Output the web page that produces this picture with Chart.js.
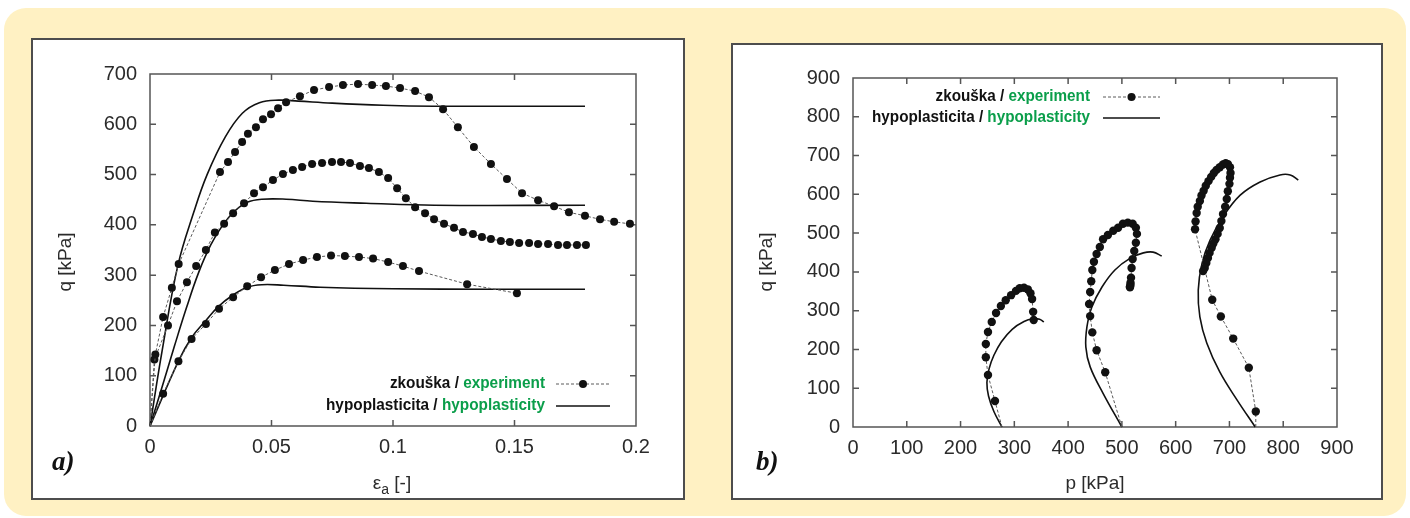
<!DOCTYPE html>
<html>
<head>
<meta charset="utf-8">
<title>Triaxiální zkoušky</title>
<script src="https://cdn.jsdelivr.net/npm/chart.js@4.4.1/dist/chart.umd.min.js"></script>
<style>
  body { margin: 0; width: 1410px; height: 518px; background: #fff; position: relative; overflow: hidden; }
  #frame { position: absolute; left: 4px; top: 8px; width: 1402px; height: 508px; background: #fff1c3; border-radius: 22px; }
  .panel { position: absolute; background: #fff; border: 2px solid #4d4d4d; box-sizing: border-box; }
  #panelA { left: 31px; top: 38px; width: 654px; height: 462px; }
  #panelB { left: 731px; top: 43px; width: 652px; height: 457px; }
  canvas { position: absolute; }
  #chartA { left: 31px; top: 38px; }
  #chartB { left: 731px; top: 43px; }
</style>
</head>
<body>
<div id="frame"></div>
<div class="panel" id="panelA"></div>
<div class="panel" id="panelB"></div>
<canvas id="chartA" width="654" height="462"></canvas>
<canvas id="chartB" width="652" height="457"></canvas>
<script>
// --- a) q vs axial strain ---
const strainTicks = ["0", "0.05", "0.1", "0.15", "0.2"];
const qTicksA = ["0", "100", "200", "300", "400", "500", "600", "700"];

// experiment (zkouška), three tests
const exp1Strain = [0, 0.0022, 0.0054, 0.009, 0.0118, 0.0288, 0.0321, 0.035, 0.0379, 0.0403, 0.0436, 0.0465, 0.0498, 0.0527, 0.056, 0.0617, 0.0675, 0.0737, 0.0794, 0.0856, 0.0914, 0.0971, 0.1029, 0.1091, 0.1148, 0.1206, 0.1267, 0.1333, 0.1403, 0.1469, 0.1531, 0.1597, 0.1663, 0.1724, 0.179, 0.1852, 0.191, 0.1975];
const exp1Q = [0, 142, 217, 275, 322, 505, 525, 545, 565, 581, 594, 610, 620, 632, 644, 656, 668, 674, 678, 680, 678, 676, 672, 666, 654, 630, 594, 555, 521, 491, 463, 449, 437, 425, 418, 411, 406, 402];

const exp2Strain = [0, 0.0018, 0.0074, 0.0111, 0.0152, 0.019, 0.023, 0.0267, 0.0305, 0.0342, 0.0387, 0.0428, 0.0465, 0.0506, 0.0547, 0.0588, 0.0626, 0.0667, 0.0708, 0.0749, 0.0786, 0.0823, 0.0864, 0.0901, 0.0942, 0.098, 0.1017, 0.1053, 0.1091, 0.1132, 0.1169, 0.121, 0.1251, 0.1288, 0.1329, 0.1366, 0.1403, 0.1444, 0.1481, 0.1519, 0.156, 0.1597, 0.1638, 0.1679, 0.1716, 0.1757, 0.1794];
const exp2Q = [0, 132, 200, 248, 286, 318, 350, 385, 402, 423, 443, 463, 475, 489, 501, 509, 515, 521, 523, 525, 525, 523, 517, 513, 505, 493, 473, 453, 435, 423, 411, 402, 394, 386, 382, 376, 372, 368, 366, 364, 364, 362, 362, 360, 360, 360, 360];

const exp3Strain = [0, 0.0054, 0.0117, 0.0171, 0.023, 0.0284, 0.0342, 0.04, 0.0457, 0.0514, 0.0572, 0.063, 0.0687, 0.0745, 0.0802, 0.086, 0.0918, 0.098, 0.1041, 0.1107, 0.1305, 0.151];
const exp3Q = [0, 64, 129, 173, 203, 233, 256, 278, 296, 310, 322, 330, 336, 339, 338, 336, 333, 326, 318, 308, 282, 264];

// hypoplasticity model
const hyp1Strain = [0, 0.005, 0.0115, 0.018, 0.0235, 0.031, 0.038, 0.045, 0.053, 0.061, 0.075, 0.096, 0.117, 0.14, 0.179];
const hyp1Q = [0, 150, 320, 425, 500, 575, 622, 643, 648, 646, 642, 638, 636, 636, 636];
const hyp2Strain = [0, 0.005, 0.01, 0.015, 0.02, 0.025, 0.03, 0.035, 0.04, 0.046, 0.056, 0.067, 0.089, 0.117, 0.179];
const hyp2Q = [0, 78, 158, 235, 305, 360, 400, 428, 445, 451, 451, 447, 443, 439, 439];
const hyp3Strain = [0, 0.0117, 0.017, 0.023, 0.028, 0.034, 0.04, 0.046, 0.055, 0.07, 0.1, 0.14, 0.179];
const hyp3Q = [0, 129, 175, 210, 237, 260, 276, 281, 280, 276, 273, 272, 272];

// --- b) stress paths p-q ---
const pTicks = ["0", "100", "200", "300", "400", "500", "600", "700", "800", "900"];
const qTicksB = ["0", "100", "200", "300", "400", "500", "600", "700", "800", "900"];

const path1P = [749, 749, 736, 707, 684, 668, 636, 637, 639, 641, 645, 648, 652, 656, 661, 666, 671, 676, 682, 688, 693, 697, 701, 702, 701, 700, 697, 695, 692, 688, 685, 682, 678, 674, 670, 667, 663, 660, 657, 654, 651];
const path1Q = [0, 40, 153, 228, 285, 328, 510, 530, 552, 568, 583, 597, 609, 622, 634, 645, 655, 663, 670, 677, 680, 678, 670, 655, 643, 627, 608, 588, 568, 549, 531, 513, 498, 484, 473, 462, 449, 436, 423, 410, 402];
const path2P = [500, 469, 453, 445, 441, 439, 441, 443, 445, 448, 453, 459, 465, 474, 484, 493, 502, 511, 520, 526, 528, 526, 523, 520, 518, 517, 516, 516, 515, 515];
const path2Q = [0, 141, 198, 244, 286, 317, 348, 376, 405, 426, 446, 464, 484, 495, 506, 514, 524, 527, 524, 514, 498, 475, 454, 433, 410, 385, 372, 366, 362, 360];
const path3P = [277, 264, 251, 247, 247, 251, 258, 266, 275, 284, 294, 303, 310, 318, 325, 330, 333, 335, 336];
const path3Q = [0, 67, 134, 180, 214, 245, 271, 294, 312, 327, 340, 351, 358, 359, 355, 345, 330, 297, 276];

const hypPath1P = [748, 714, 682, 658, 645, 642, 649, 664, 688, 720, 757, 794, 813, 828];
const hypPath1Q = [0, 70, 142, 216, 284, 353, 422, 482, 542, 598, 632, 650, 650, 637];
const hypPath2P = [500, 465, 441, 433, 435, 444, 463, 487, 515, 540, 558, 574];
const hypPath2Q = [0, 87, 155, 206, 258, 309, 361, 405, 435, 449, 451, 441];
const hypPath3P = [277, 262, 252, 249, 253, 262, 276, 296, 318, 335, 347, 355];
const hypPath3Q = [0, 40, 80, 115, 150, 185, 220, 252, 272, 279, 278, 271];

const legendRows = [
  { cz: "zkouška / ", en: "experiment" },
  { cz: "hypoplasticita / ", en: "hypoplasticity" }
];

const GREEN = "#0a9e4a";
const TEXT = "#2b2b2b";
const tickFont = { family: "'Liberation Sans', Arial, sans-serif", size: 20 };

const toPoints = (xs, ys) => xs.map((x, i) => ({ x, y: ys[i] }));

const expSet = (xs, ys, r) => ({
  data: toPoints(xs, ys),
  showLine: true,
  borderColor: "#5a5a5a",
  borderWidth: 1,
  borderDash: [3, 2],
  pointRadius: (c) => (ys[c.dataIndex] === 0 ? 0 : r),
  pointBackgroundColor: "#111",
  pointBorderWidth: 0,
  tension: 0,
  clip: false
});

const hypSet = (xs, ys) => ({
  data: toPoints(xs, ys),
  showLine: true,
  borderColor: "#111",
  borderWidth: 1.6,
  pointRadius: 0,
  tension: 0.4,
  clip: false
});

// box around the plot with inward ticks on all four sides
const gnuplotBox = {
  id: "gnuplotBox",
  beforeDatasetsDraw(chart) {
    const { ctx, chartArea: a, scales } = chart;
    ctx.save();
    ctx.strokeStyle = "#555";
    ctx.lineWidth = 1.5;
    ctx.strokeRect(a.left, a.top, a.right - a.left, a.bottom - a.top);
    ctx.beginPath();
    const xt = scales.x.ticks, yt = scales.y.ticks;
    xt.forEach((t, i) => {
      if (i === 0 || i === xt.length - 1) return;
      const px = scales.x.getPixelForValue(t.value);
      ctx.moveTo(px, a.bottom); ctx.lineTo(px, a.bottom - 6);
      ctx.moveTo(px, a.top); ctx.lineTo(px, a.top + 6);
    });
    yt.forEach((t, i) => {
      if (i === 0 || i === yt.length - 1) return;
      const py = scales.y.getPixelForValue(t.value);
      ctx.moveTo(a.left, py); ctx.lineTo(a.left + 6, py);
      ctx.moveTo(a.right, py); ctx.lineTo(a.right - 6, py);
    });
    ctx.stroke();
    ctx.restore();
  }
};

// legend, panel letter and axis titles
const decorations = {
  id: "decorations",
  afterDraw(chart, args, o) {
    const ctx = chart.ctx;
    ctx.save();

    // legend: narrow bold text, squeezed to the width of the row
    ctx.font = "bold 16px 'Liberation Sans', Arial, sans-serif";
    ctx.textBaseline = "middle";
    ctx.textAlign = "left";
    const longest = ctx.measureText(legendRows[1].cz + legendRows[1].en).width;
    const squeeze = o.legendWidth / longest;
    legendRows.forEach((row, i) => {
      const y = o.legendY[i];
      const wEn = ctx.measureText(row.en).width * squeeze;
      const wCz = ctx.measureText(row.cz).width * squeeze;
      ctx.save();
      ctx.translate(o.legendRight - wEn - wCz, y);
      ctx.scale(squeeze, 1);
      ctx.fillStyle = "#111";
      ctx.fillText(row.cz, 0, 0);
      ctx.fillStyle = GREEN;
      ctx.fillText(row.en, wCz / squeeze, 0);
      ctx.restore();
    });
    const [l0, l1] = o.sample;
    ctx.strokeStyle = "#5a5a5a";
    ctx.lineWidth = 1;
    ctx.setLineDash([3, 2]);
    ctx.beginPath();
    ctx.moveTo(l0, o.legendY[0]); ctx.lineTo(l1, o.legendY[0]);
    ctx.stroke();
    ctx.setLineDash([]);
    ctx.fillStyle = "#111";
    ctx.beginPath();
    ctx.arc((l0 + l1) / 2, o.legendY[0], o.dot, 0, Math.PI * 2);
    ctx.fill();
    ctx.strokeStyle = "#111";
    ctx.lineWidth = 1.6;
    ctx.beginPath();
    ctx.moveTo(l0, o.legendY[1]); ctx.lineTo(l1, o.legendY[1]);
    ctx.stroke();

    // panel letter
    ctx.font = "italic bold 27px 'Liberation Serif', 'Times New Roman', serif";
    ctx.fillStyle = "#111";
    ctx.textAlign = "left";
    ctx.fillText(o.letter, o.letterPos[0], o.letterPos[1]);

    // y title
    ctx.font = "19px 'Liberation Sans', Arial, sans-serif";
    ctx.fillStyle = TEXT;
    ctx.save();
    ctx.translate(o.yTitlePos[0], o.yTitlePos[1]);
    ctx.rotate(-Math.PI / 2);
    ctx.textAlign = "center";
    ctx.fillText("q [kPa]", 0, 0);
    ctx.restore();

    // x title
    const [tx, ty] = o.xTitlePos;
    if (o.strainTitle) {
      const big = "19px 'Liberation Sans', Arial, sans-serif";
      const small = "14px 'Liberation Sans', Arial, sans-serif";
      ctx.font = big;
      const w1 = ctx.measureText("ε").width;
      const w3 = ctx.measureText(" [-]").width;
      ctx.font = small;
      const w2 = ctx.measureText("a").width;
      let x = tx - (w1 + w2 + w3) / 2;
      ctx.textAlign = "left";
      ctx.font = big;
      ctx.fillText("ε", x, ty);
      x += w1;
      ctx.font = small;
      ctx.fillText("a", x, ty + 6);
      x += w2;
      ctx.font = big;
      ctx.fillText(" [-]", x, ty);
    } else {
      ctx.textAlign = "center";
      ctx.fillText("p [kPa]", tx, ty);
    }
    ctx.restore();
  }
};

const axisOptions = (min, max, step, labels, fitKey, fitSize, pad) => ({
  type: "linear",
  min, max,
  afterFit: (s) => { s[fitKey] = fitSize; },
  grid: { display: false, drawTicks: false },
  border: { display: false },
  ticks: {
    stepSize: step,
    autoSkip: false,
    maxRotation: 0,
    padding: pad,
    color: TEXT,
    font: tickFont,
    callback: (v, i) => labels[i]
  }
});

new Chart(document.getElementById("chartA"), {
  type: "scatter",
  data: {
    datasets: [
      expSet(exp1Strain, exp1Q, 4),
      expSet(exp2Strain, exp2Q, 4),
      expSet(exp3Strain, exp3Q, 4),
      hypSet(hyp1Strain, hyp1Q),
      hypSet(hyp2Strain, hyp2Q),
      hypSet(hyp3Strain, hyp3Q)
    ]
  },
  options: {
    responsive: false,
    animation: false,
    events: [],
    layout: { padding: { left: 0, top: 36, right: 49, bottom: 0 } },
    scales: {
      x: axisOptions(0, 0.2, 0.05, strainTicks, "height", 74, 9),
      y: axisOptions(0, 700, 100, qTicksA, "width", 119, 13)
    },
    plugins: {
      legend: { display: false },
      tooltip: { enabled: false },
      decorations: {
        legendRight: 514, legendWidth: 219, legendY: [346, 368], sample: [525, 579], dot: 4,
        letter: "a)", letterPos: [21, 425],
        yTitlePos: [35, 224], xTitlePos: [361, 446], strainTitle: true
      }
    }
  },
  plugins: [gnuplotBox, decorations]
});

new Chart(document.getElementById("chartB"), {
  type: "scatter",
  data: {
    datasets: [
      expSet(path1P, path1Q, 4.2),
      expSet(path2P, path2Q, 4.2),
      expSet(path3P, path3Q, 4.2),
      hypSet(hypPath1P, hypPath1Q),
      hypSet(hypPath2P, hypPath2Q),
      hypSet(hypPath3P, hypPath3Q)
    ]
  },
  options: {
    responsive: false,
    animation: false,
    events: [],
    layout: { padding: { left: 0, top: 35, right: 46, bottom: 0 } },
    scales: {
      x: axisOptions(0, 900, 100, pTicks, "height", 73, 9),
      y: axisOptions(0, 900, 100, qTicksB, "width", 122, 13)
    },
    plugins: {
      legend: { display: false },
      tooltip: { enabled: false },
      decorations: {
        legendRight: 359, legendWidth: 218, legendY: [54, 75], sample: [372, 429], dot: 4,
        letter: "b)", letterPos: [25, 420],
        yTitlePos: [36, 219], xTitlePos: [364, 441], strainTitle: false
      }
    }
  },
  plugins: [gnuplotBox, decorations]
});
</script>
</body>
</html>
